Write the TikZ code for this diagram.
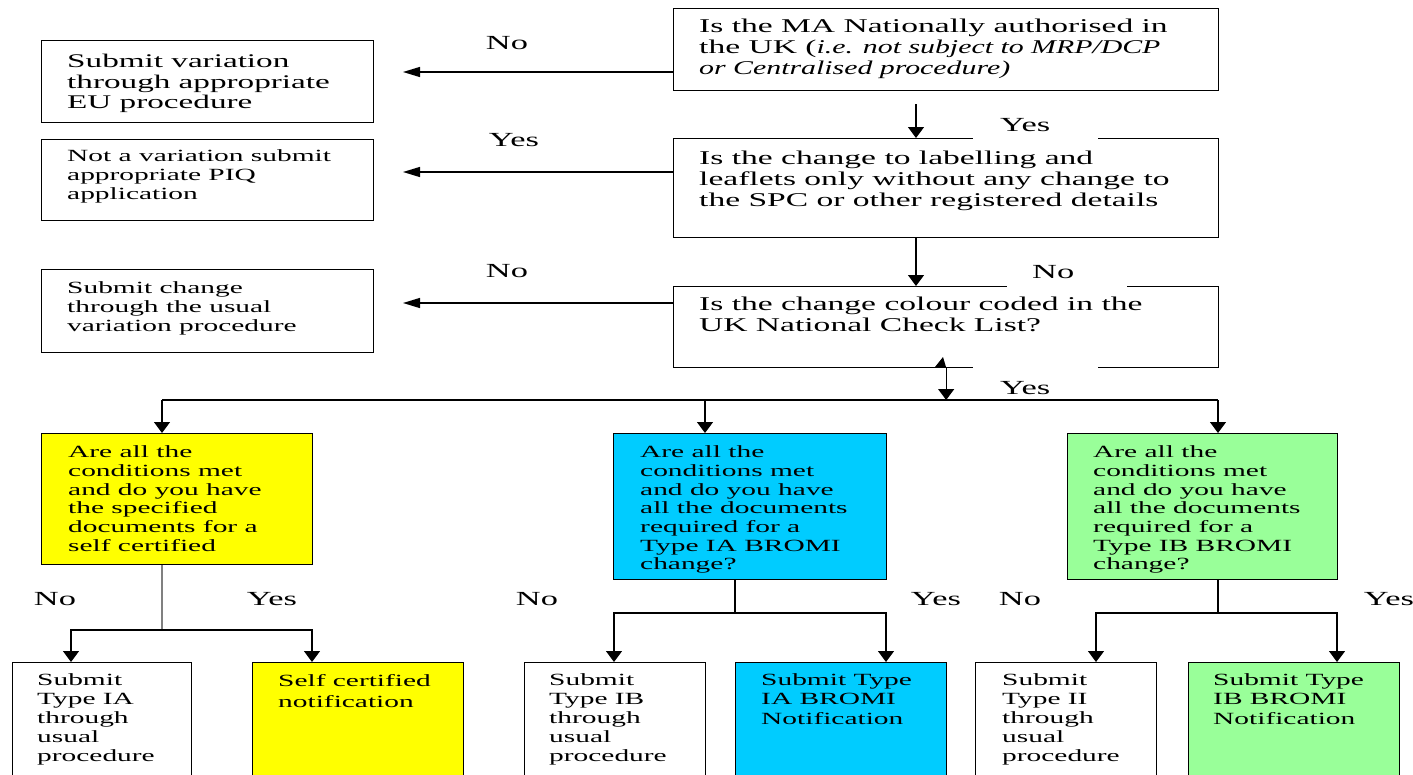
\documentclass[tikz,border=0pt]{standalone}
\usepackage{fontspec}
\setmainfont{Liberation Serif}[FakeStretch=1.72]
\newfontfamily\narrowfam{Liberation Serif}[FakeStretch=1.53]
\newcommand{\nit}[1]{{\narrowfam\itshape #1}}
\usetikzlibrary{arrows.meta}
\definecolor{cyel}{HTML}{FFFF00}
\definecolor{cblu}{HTML}{00CCFF}
\definecolor{cgrn}{HTML}{99FF99}
\tikzset{
  box/.style={draw=black, line width=1.3pt, anchor=north west, inner sep=0pt},
  bigf/.style={font=\fontsize{19.5}{21}\selectfont},
  smallf/.style={font=\fontsize{17.1}{18.7}\selectfont},
  txt/.style={anchor=north west, inner sep=0pt, align=left},
  lab/.style={inner sep=0pt, font=\fontsize{20}{20.7}\selectfont},
  gaplab/.style={anchor=base west, inner sep=0pt, fill=white, font=\fontsize{20}{20.7}\selectfont},
  conn/.style={line width=1.3pt},
  arrV/.style={line width=1.3pt, -{Triangle[width=16pt,length=11pt]}},
  arrH/.style={line width=1.3pt, -{Triangle[width=10pt,length=17pt]}}
}
\begin{document}
\begin{tikzpicture}[x=1pt,y=-1pt]
\fill[white] (0,0) rectangle (1413,774);
\clip (0,0) rectangle (1413,774);

% ---------- question boxes (right column)
\node[box, minimum width=545pt, minimum height=82pt] (q1) at (673,8) {};
\node[box, minimum width=545pt, minimum height=99pt] (q2) at (673,138) {};
\node[box, minimum width=545pt, minimum height=81pt] (q3) at (673,286) {};
\node[txt, bigf] (q1t) at (699,19) {Is the MA Nationally authorised in\\the UK (\nit{i.e. not subject to MRP/DCP}\\\nit{or Centralised procedure)}};
\node[txt, bigf] (q2t) at (699,151) {Is the change to labelling and\\leaflets only without any change to\\the SPC or other registered details};
\node[txt, bigf] (q3t) at (699,297) {Is the change colour coded in the\\UK National Check List?};

% ---------- outcome boxes (left column)
\node[box, minimum width=332pt, minimum height=82pt] (a1) at (41,40) {};
\node[box, minimum width=332pt, minimum height=81pt] (a2) at (41,139) {};
\node[box, minimum width=332pt, minimum height=83pt] (a3) at (41,269) {};
\node[txt, font=\fontsize{19.3}{20.5}\selectfont] (a1t) at (67,54) {Submit variation\\through appropriate\\EU procedure};
\node[txt, font=\fontsize{17.1}{19}\selectfont] (a2t) at (67,149.6) {Not a variation submit\\appropriate PIQ\\application};
\node[txt, font=\fontsize{17.1}{19}\selectfont] (a3t) at (67,281.6) {Submit change\\through the usual\\variation procedure};

% ---------- coloured question boxes
\node[box, fill=cyel, minimum width=271pt, minimum height=131pt] (b1) at (41,433) {};
\node[box, fill=cblu, minimum width=273pt, minimum height=146pt] (b2) at (613,433) {};
\node[box, fill=cgrn, minimum width=270pt, minimum height=146pt] (b3) at (1067,433) {};
\node[txt, smallf] (b1t) at (68,445.6) {Are all the\\conditions met\\and do you have\\the specified\\documents for a\\self certified};
\node[txt, smallf] (b2t) at (640,445.6) {Are all the\\conditions met\\and do you have\\all the documents\\required for a\\Type IA BROMI\\change?};
\node[txt, smallf] (b3t) at (1093,445.6) {Are all the\\conditions met\\and do you have\\all the documents\\required for a\\Type IB BROMI\\change?};

% ---------- final boxes
\node[box, minimum width=179pt, minimum height=130pt] (c1) at (12,662) {};
\node[box, fill=cyel, minimum width=211pt, minimum height=130pt] (c2) at (252,662) {};
\node[box, minimum width=181pt, minimum height=130pt] (c3) at (524,662) {};
\node[box, fill=cblu, minimum width=211pt, minimum height=130pt] (c4) at (735,662) {};
\node[box, minimum width=181pt, minimum height=130pt] (c5) at (975,662) {};
\node[box, fill=cgrn, minimum width=211pt, minimum height=130pt] (c6) at (1188,662) {};
\node[txt, font=\fontsize{17.1}{19}\selectfont] (c1t) at (37,673.6) {Submit\\Type IA\\through\\usual\\procedure};
\node[txt, font=\fontsize{17.1}{21}\selectfont] (c2t) at (278,674.6) {Self certified\\notification};
\node[txt, font=\fontsize{17.1}{19}\selectfont] (c3t) at (549,673.6) {Submit\\Type IB\\through\\usual\\procedure};
\node[txt, font=\fontsize{17.1}{19.3}\selectfont] (c4t) at (761,673.6) {Submit Type\\IA BROMI\\Notification};
\node[txt, font=\fontsize{17.1}{19}\selectfont] (c5t) at (1002,673.6) {Submit\\Type II\\through\\usual\\procedure};
\node[txt, font=\fontsize{17.1}{19.3}\selectfont] (c6t) at (1213,673.6) {Submit Type\\IB BROMI\\Notification};

% ---------- labels that cut gaps in box borders
\node[gaplab, text height=14pt, text depth=9.5pt] (ly1) at (973,131.5) {\makebox[125pt][l]{\hspace{27pt}Yes}};
\node[gaplab, text height=14pt, text depth=9.5pt] (ln1) at (1007,278.5) {\makebox[120pt][l]{\hspace{25pt}No}};
\node[gaplab, text height=30pt, text depth=0pt] (ly2) at (973,394.5) {\makebox[125pt][l]{\hspace{27pt}Yes}};

% ---------- other labels
\node[lab] (ln0) at (507,43) {No};
\node[lab] (ly0) at (514,140) {Yes};
\node[lab] (ln2) at (507,271) {No};
\node[lab] (lbn1) at (55,599) {No};
\node[lab] (lby1) at (272,599) {Yes};
\node[lab] (lbn2) at (537,599) {No};
\node[lab] (lby2) at (936,599) {Yes};
\node[lab] (lbn3) at (1020,599) {No};
\node[lab] (lby3) at (1389,599) {Yes};

% ---------- connector coordinates
\coordinate (e1) at (403,72);
\coordinate (e2) at (403,172);
\coordinate (e3) at (403,303);
\coordinate (s1) at (916,104);
\coordinate (j1) at (162,400);
\coordinate (j2) at (705,400);
\coordinate (j3) at (1218,400);
\coordinate (k1) at (162,630);
\coordinate (k2) at (735,613);
\coordinate (k3) at (1218,613);
\coordinate (d1) at (71,630);
\coordinate (d2) at (312,630);
\coordinate (d3) at (614,613);
\coordinate (d4) at (886,613);
\coordinate (d5) at (1096,613);
\coordinate (d6) at (1337,613);

% ---------- connectors
\draw[arrH] (q1.west |- e1) -- (e1);
\draw[arrH] (q2.west |- e2) -- (e2);
\draw[arrH] (q3.west |- e3) -- (e3);
\draw[arrV] (s1) -- (s1 |- q2.north);
\draw[arrV] (q2.south -| s1) -- (q3.north -| s1);
\draw[arrV] (q3.south) -- (q3.south |- j1);
\fill (935,367) -- (943,357) -- (946,367) -- cycle;
\draw[conn] (j1) -- (j3);
\draw[arrV] (j1) -- (j1 |- b1.north);
\draw[arrV] (j2) -- (j2 |- b2.north);
\draw[arrV] (j3) -- (j3 |- b3.north);

\draw[conn, draw=gray] (b1.south -| k1) -- (k1);
\draw[arrV] (k1) -| (c1.north -| d1);
\draw[arrV] (k1) -| (c2.north -| d2);
\draw[conn] (b2.south -| k2) -- (k2);
\draw[arrV] (k2) -| (c3.north -| d3);
\draw[arrV] (k2) -| (c4.north -| d4);
\draw[conn] (b3.south -| k3) -- (k3);
\draw[arrV] (k3) -| (c5.north -| d5);
\draw[arrV] (k3) -| (c6.north -| d6);
\end{tikzpicture}
\end{document}
